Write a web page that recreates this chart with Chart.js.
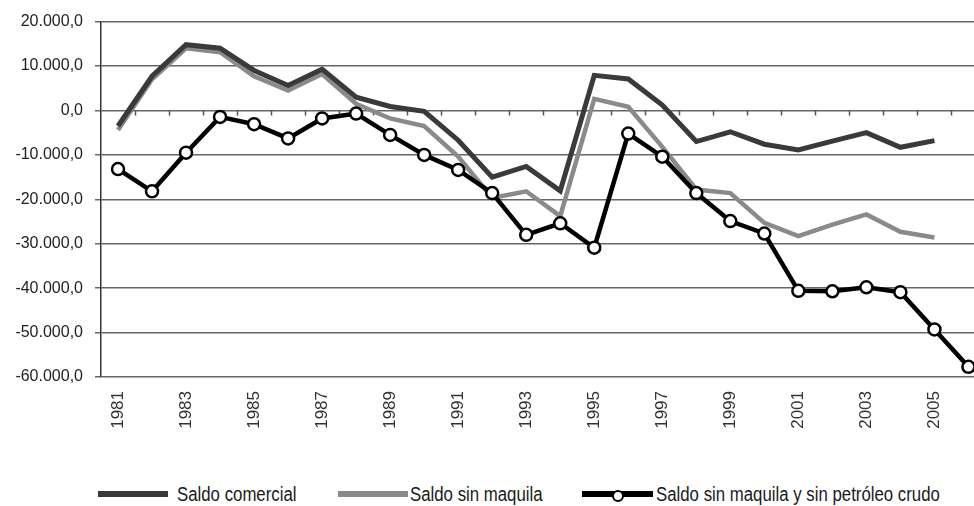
<!DOCTYPE html>
<html>
<head>
<meta charset="utf-8">
<script src="https://cdn.jsdelivr.net/npm/chart.js@4.4.1/dist/chart.umd.min.js"></script>
<style>
    html, body { margin: 0; padding: 0; background: #fff; overflow: hidden; width: 974px; height: 506px; }
    #wrap { position: absolute; left: 0; top: 0; width: 1003px; height: 440px; }
    .leyenda { position: absolute; top: 481px; left: 0; width: 974px; height: 26px;
        font-family: "Liberation Sans", Arial, sans-serif;
        font-size: 20px; color: #1a1a1a; }
    .item { position: absolute; top: 0; white-space: nowrap; line-height: 26px;
        transform: scaleX(0.84); transform-origin: 0 50%; }
    .muestra { position: absolute; top: 10px; height: 6px; }
    .circulo { position: absolute; top: 9px; width: 8px; height: 8px; border: 2.5px solid #000;
        background: #fff; border-radius: 50%; }
</style>
</head>
<body>
<div id="wrap"><canvas id="grafico" width="1003" height="440"></canvas></div>
<div class="leyenda">
    <div class="muestra" style="left:98px;width:70px;background:#3a3a3a"></div>
    <div class="item" style="left:177px">Saldo comercial</div>
    <div class="muestra" style="left:338px;width:70px;background:#8a8a8a"></div>
    <div class="item" style="left:410px">Saldo sin maquila</div>
    <div class="muestra" style="left:582px;width:71px;background:#000"></div>
    <div class="circulo" style="left:612px"></div>
    <div class="item" style="left:656px">Saldo sin maquila y sin petróleo crudo</div>
</div>
<script>
// años del eje x
var anios = ['1981', '1982', '1983', '1984', '1985', '1986', '1987', '1988', '1989', '1990',
    '1991', '1992', '1993', '1994', '1995', '1996', '1997', '1998', '1999', '2000',
    '2001', '2002', '2003', '2004', '2005', '2006'];

// millones de dólares
var saldoComercial = [-3500, 7700, 14800, 14000, 9000, 5600, 9300, 3000, 900, -200,
    -6700, -15000, -12600, -18100, 7900, 7100, 1200, -7000, -4800, -7600,
    -8900, -6900, -5000, -8300, -6800, null];

var saldoSinMaquila = [-4400, 7000, 14000, 13100, 7700, 4500, 8200, 1500, -1800, -3500,
    -10400, -19700, -18200, -23800, 2600, 800, -8200, -17800, -18600, -25300,
    -28300, -25700, -23400, -27300, -28600, null];

var saldoSinPetroleo = [-13200, -18200, -9500, -1450, -3100, -6300, -1800, -700, -5500, -10000,
    -13400, -18600, -28000, -25400, -30900, -5200, -10400, -18600, -24900, -27700,
    -40600, -40700, -39800, -40900, -49300, -57700];

var ejeY = { min: -60000, max: 20000, paso: 10000 };

function formatoNumero(v) {
    var signo = v < 0 ? '-' : '';
    var entero = Math.abs(Math.round(v)).toString();
    entero = entero.replace(/\B(?=(\d{3})+(?!\d))/g, '.');
    return signo + entero + ',0';
}

// marcas del eje x sobre la línea del cero
var marcasCero = {
    id: 'marcasCero',
    beforeDatasetsDraw: function (chart) {
        var ctx = chart.ctx;
        var x = chart.scales.x;
        var y0 = chart.scales.y.getPixelForValue(0);
        var medio = (x.getPixelForValue(1) - x.getPixelForValue(0)) / 2;
        ctx.save();
        ctx.strokeStyle = '#555';
        ctx.lineWidth = 1.5;
        ctx.beginPath();
        for (var i = 1; i < anios.length; i++) {
            var px = Math.round(x.getPixelForValue(i) - medio) + 0.5;
            ctx.moveTo(px, y0);
            ctx.lineTo(px, y0 + 5);
        }
        ctx.stroke();
        ctx.restore();
    }
};

var ctx = document.getElementById('grafico').getContext('2d');
var grafico = new Chart(ctx, {
    type: 'line',
    data: {
        labels: anios,
        datasets: [{
            label: 'Saldo comercial',
            data: saldoComercial,
            borderColor: '#3a3a3a',
            borderWidth: 5,
            pointRadius: 0,
            order: 1
        },
        {
            label: 'Saldo sin maquila',
            data: saldoSinMaquila,
            borderColor: '#8a8a8a',
            borderWidth: 4.5,
            pointRadius: 0,
            order: 2
        },
        {
            label: 'Saldo sin maquila y sin petróleo crudo',
            data: saldoSinPetroleo,
            borderColor: '#000',
            borderWidth: 4.5,
            pointRadius: 6,
            pointBackgroundColor: '#fff',
            pointBorderColor: '#000',
            pointBorderWidth: 2.5,
            order: 0
        }]
    },
    options: {
        responsive: false,
        animation: false,
        spanGaps: false,
        layout: { padding: { top: 19, left: 0, right: 0, bottom: 0 } },
        plugins: {
            legend: { display: false },
            tooltip: { enabled: false }
        },
        scales: {
            x: {
                offset: true,
                grid: { display: false, drawTicks: false },
                border: { display: false },
                afterFit: function (scale) { scale.height = 63; },
                ticks: {
                    autoSkip: false,
                    minRotation: 90,
                    maxRotation: 90,
                    padding: 14,
                    color: '#333',
                    font: { family: '"Liberation Sans", Arial, sans-serif', size: 17 },
                    callback: function (val, i) { return i % 2 === 0 ? anios[i] : ''; }
                }
            },
            y: {
                min: ejeY.min,
                max: ejeY.max,
                afterFit: function (scale) { scale.width = 101; },
                border: { display: true, color: '#333', width: 1.5 },
                grid: { color: '#666', lineWidth: 1.5, tickLength: 6 },
                ticks: {
                    stepSize: ejeY.paso,
                    padding: 12,
                    color: '#222',
                    font: { family: '"Liberation Sans", Arial, sans-serif', size: 16 },
                    callback: function (v) { return formatoNumero(v); }
                }
            }
        }
    },
    plugins: [marcasCero]
});
</script>
</body>
</html>
